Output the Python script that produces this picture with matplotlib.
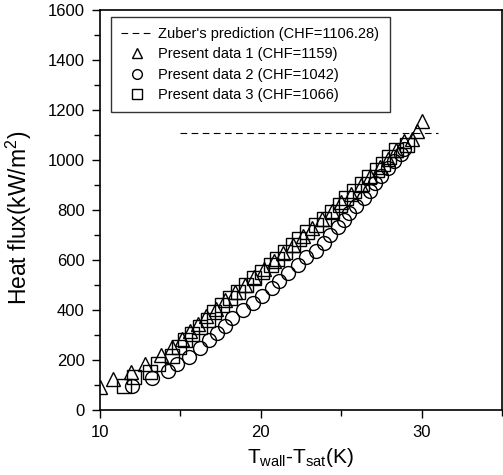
import matplotlib
matplotlib.use("Agg")
import matplotlib.pyplot as plt
from matplotlib.ticker import MultipleLocator

plt.rcParams['font.family'] = ['Liberation Sans', 'DejaVu Sans']
plt.rcParams['mathtext.default'] = 'regular'

# Zuber's prediction
zuber_x = [15.0, 31.0]
zuber_chf = 1106.28

# Present data 1 (triangles)
d1_x = [10.0, 10.8, 11.9, 12.8, 13.8, 14.5, 15.1, 15.6, 16.1, 16.6, 17.2, 17.8,
        18.4, 19.0, 19.6, 20.2, 20.8, 21.4, 22.0, 22.6, 23.2, 23.8, 24.4, 25.0,
        25.6, 26.2, 26.8, 27.4, 27.9, 28.4, 28.9, 29.4, 29.7, 30.0]
d1_y = [92, 124, 153, 185, 218, 252, 285, 315, 345, 375, 405, 440,
        470, 500, 530, 562, 595, 628, 660, 695, 728, 762, 795, 830,
        865, 900, 935, 970, 1005, 1040, 1075, 1083, 1115, 1155]

# Present data 2 (circles)
d2_x = [11.98, 13.2, 14.2, 14.8, 15.5, 16.2, 16.8, 17.3, 17.75, 18.2, 18.9,
        19.5, 20.1, 20.7, 21.1, 21.7, 22.3, 22.8, 23.4, 23.9, 24.3, 24.8,
        25.2, 25.5, 25.9, 26.4, 26.8, 27.1, 27.5, 27.9, 28.3, 28.7, 28.9]
d2_y = [95, 127, 155, 183, 213, 247, 280, 307, 336, 367, 400,
        429, 456, 487, 517, 549, 580, 611, 637, 667, 700, 733,
        760, 787, 816, 847, 877, 907, 936, 967, 996, 1025, 1042]

# Present data 3 (squares)
d3_x = [11.5, 12.1, 13.1, 13.6, 14.5, 14.9, 15.3, 15.7, 16.2, 16.7, 17.1, 17.6,
        18.1, 18.6, 19.1, 19.6, 20.1, 20.6, 21.0, 21.5, 22.0, 22.4, 22.9, 23.4,
        23.9, 24.4, 24.9, 25.3, 25.8, 26.3, 26.7, 27.2, 27.6, 28.0, 28.4, 29.1]
d3_y = [95, 130, 153, 185, 215, 250, 280, 305, 330, 360, 393, 420,
        447, 473, 500, 527, 553, 580, 605, 632, 658, 685, 712, 740,
        765, 792, 820, 847, 875, 903, 930, 958, 985, 1012, 1040, 1060]

fig = plt.figure(figsize=(5.03, 4.75), dpi=100)
ax = fig.add_axes([0.199, 0.137, 0.799, 0.842])

ax.plot(zuber_x, [zuber_chf, zuber_chf], '--', color='k', lw=0.8,
        dashes=(6, 4), label="Zuber's prediction (CHF=1106.28)")
ax.plot(d1_x, d1_y, '^', ms=10.5, mfc='none', mec='k', mew=1.0,
        label='Present data 1 (CHF=1159)')
ax.plot(d2_x, d2_y, 'o', ms=10, mfc='none', mec='k', mew=1.0,
        label='Present data 2 (CHF=1042)')
ax.plot(d3_x, d3_y, 's', ms=9.5, mfc='none', mec='k', mew=1.0,
        label='Present data 3 (CHF=1066)')

ax.set_xlim(10, 35)
ax.set_ylim(0, 1600)
ax.set_xticks([10, 20, 30])
ax.xaxis.set_minor_locator(MultipleLocator(5))
ax.yaxis.set_major_locator(MultipleLocator(200))
ax.yaxis.set_minor_locator(MultipleLocator(100))
ax.tick_params(which='major', direction='out', length=6, width=1, labelsize=12, pad=5)
ax.tick_params(which='minor', direction='out', length=4, width=1)
for s in ax.spines.values():
    s.set_linewidth(1.2)

ax.set_xlabel(r'T$_{wall}$-T$_{sat}$(K)', fontsize=15, labelpad=4)
ax.set_ylabel(r'Heat flux(kW/m$^2$)', fontsize=16.5)
ax.yaxis.set_label_coords(-0.165, 0.48)

leg = ax.legend(loc='upper left', bbox_to_anchor=(0.027, 0.983), fontsize=10.5,
                frameon=True, fancybox=False, edgecolor='k', handlelength=2.2,
                handletextpad=0.35, borderpad=0.7, labelspacing=0.44,
                borderaxespad=0, markerscale=0.7)
leg.get_frame().set_linewidth(1.0)

fig.savefig('out.png', dpi=100)
